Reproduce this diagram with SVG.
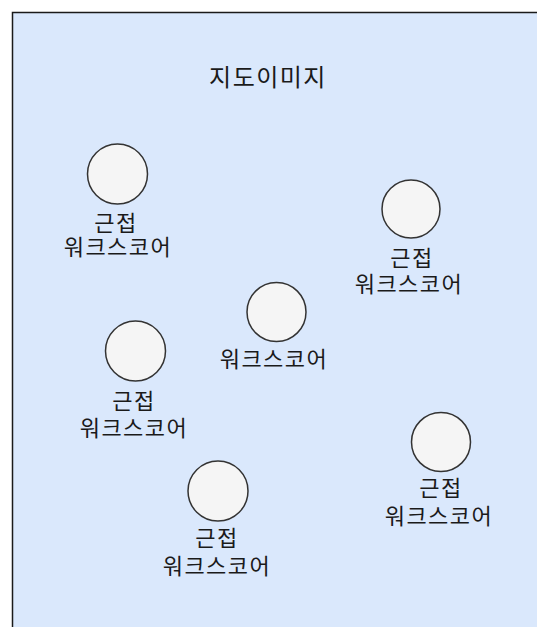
<svg xmlns="http://www.w3.org/2000/svg" width="537" height="627" viewBox="0 0 537 627">
<style>
.bg{fill:#dae8fc;stroke:#1a1a1a;stroke-width:1.5}
.c{fill:#f5f5f5;stroke:#333333;stroke-width:1.5}
.t{font-family:"Malgun Gothic","Noto Sans CJK KR",sans-serif;font-size:22px;fill:#1a1a1a;text-anchor:middle;letter-spacing:1.5px}
.title{font-family:"Malgun Gothic","Noto Sans CJK KR",sans-serif;font-size:24px;fill:#1a1a1a;text-anchor:middle;letter-spacing:1.5px}
</style>
<rect class="bg" x="12.5" y="12.5" width="540" height="630"/>
<g id="title"><text class="title" x="268" y="86">지도이미지</text></g>
<g id="n1">
<circle class="c" cx="117.5" cy="174" r="30"/>
<text class="t" x="116" y="231">근접</text>
<text class="t" x="118" y="255">워크스코어</text>
</g>
<g id="n2">
<circle class="c" cx="411" cy="209" r="29"/>
<text class="t" x="412" y="266">근접</text>
<text class="t" x="409" y="292">워크스코어</text>
</g>
<g id="n3">
<circle class="c" cx="276.5" cy="312" r="29.5"/>
<text class="t" x="274" y="367">워크스코어</text>
</g>
<g id="n4">
<circle class="c" cx="135.5" cy="351" r="30"/>
<text class="t" x="134" y="409">근접</text>
<text class="t" x="134" y="436">워크스코어</text>
</g>
<g id="n5">
<circle class="c" cx="441" cy="442" r="29.5"/>
<text class="t" x="441" y="496">근접</text>
<text class="t" x="439" y="524">워크스코어</text>
</g>
<g id="n6">
<circle class="c" cx="218" cy="491" r="30"/>
<text class="t" x="217" y="546">근접</text>
<text class="t" x="217" y="574">워크스코어</text>
</g>
<g id="connectors"></g>
</svg>
